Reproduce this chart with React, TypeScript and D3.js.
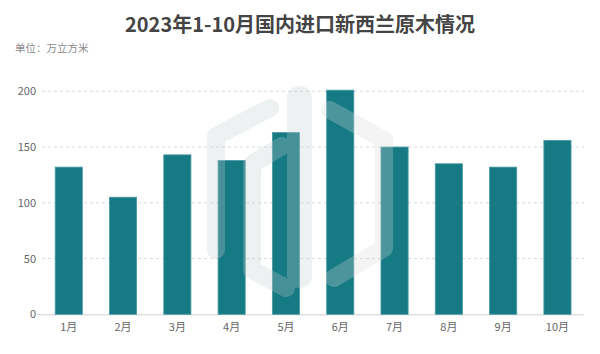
import React from "react";
import * as d3 from "d3";

const months = ["1月", "2月", "3月", "4月", "5月", "6月", "7月", "8月", "9月", "10月"];
const values = [132, 105, 143, 138, 163, 201, 150, 135, 132, 156];
const yTicks = [0, 50, 100, 150, 200];
const title = "2023年1-10月国内进口新西兰原木情况";
const unitLabel = "单位：万立方米";

const W = 600;
const H = 354;
const FONT = "'Noto Sans CJK SC', 'Noto Sans', sans-serif";

export default function App() {
  const x = d3.scaleBand<string>().domain(months).range([41.6, 584.6]).paddingInner(0.5).paddingOuter(0.25);
  const y = d3.scaleLinear().domain([0, 200]).range([314.3, 91.3]);
  return (
    <svg width={W} height={H} style={{ position: "absolute", left: 0, top: 0, background: "#fff" }}>
      <text x={300} y={32} textAnchor="middle" fontFamily={FONT} fontWeight="bold" fontSize={20} fill="#444">
        {title}
      </text>
      <text x={15} y={52} fontFamily={FONT} fontSize={10.5} fill="#8a8a8a">
        {unitLabel}
      </text>
      {yTicks.map((t) => (
        <g key={t}>
          {t > 0 && (
            <line x1={42} x2={584} y1={y(t)} y2={y(t)} stroke="#d9d9d9" strokeDasharray="3,3" strokeWidth={1} />
          )}
          <text x={36} y={y(t) + 4} textAnchor="end" fontFamily={FONT} fontSize={11} fill="#666">
            {t}
          </text>
        </g>
      ))}
      <line x1={37} x2={584} y1={y(0) + 0.5} y2={y(0) + 0.5} stroke="#d0d0d0" strokeWidth={1} />
      {months.map((m, i) => (
        <g key={m}>
          <rect
            x={x(m)!}
            y={y(values[i])}
            width={x.bandwidth()}
            height={y(0) - y(values[i])}
            fill="#157a84"
            stroke="#4a9aa2"
            strokeWidth={0.8}
          />
          <text x={x(m)! + x.bandwidth() / 2} y={331} textAnchor="middle" fontFamily={FONT} fontSize={11} fill="#666">
            {m}
          </text>
        </g>
      ))}
      <g opacity={0.28} fill="none" strokeLinecap="round" strokeLinejoin="round">
        <path d="M 270,108 L 216,136 L 216,250" stroke="#c5cfcf" strokeWidth={18} />
        <path d="M 282,146 L 252,164 L 252,270 L 286,288" stroke="#c5cfcf" strokeWidth={18} />
        <rect x={287} y={86} width={25} height={202} rx={12} fill="#c5cfcf" stroke="none" />
        <path d="M 330,110 L 384,140 L 384,248 L 334,278" stroke="#dadada" strokeWidth={18} />
      </g>
    </svg>
  );
}
